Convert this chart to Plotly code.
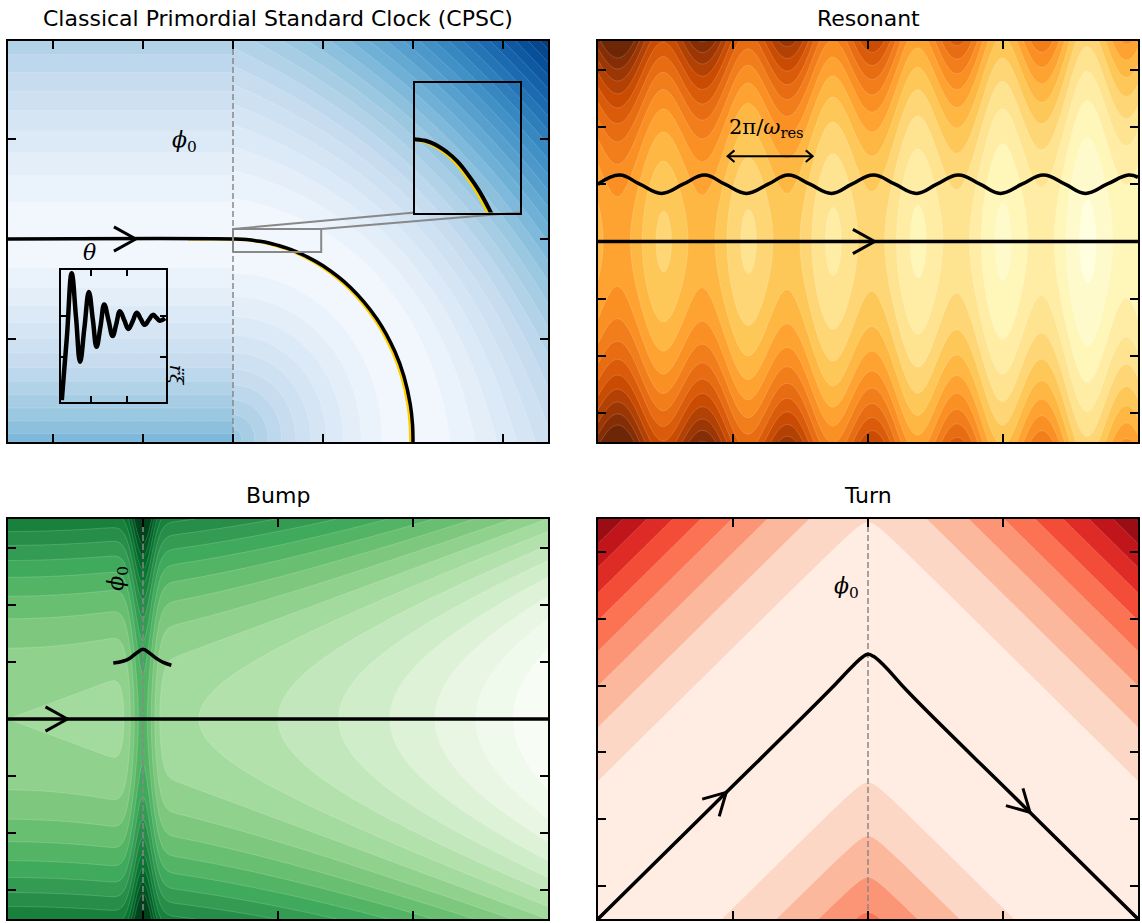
import numpy as np
import plotly.graph_objects as go

W, H = 1142, 923

# ---------------- data ----------------
# CPSC trajectory (black) and the classical path (yellow)
cpsc_x = [-0.5, 2.0, 2.15, 2.3, 2.4, 2.5, 2.6, 2.7, 2.8, 3.0, 3.3, 3.6, 3.8, 3.9, 3.97, 3.995, 4.0, 4.0]
cpsc_y = [0.0, 0.0, -0.006, -0.023, -0.040, -0.064, -0.092, -0.127, -0.167, -0.268, -0.480, -0.800, -1.128, -1.376, -1.655, -1.859, -2.0, -2.03]
yellow_x = [1.5, 1.975, 2.125, 2.275, 2.375, 2.475, 2.575, 2.675, 2.775, 2.975, 3.275, 3.575, 3.775, 3.875, 3.945, 3.97, 3.975, 3.975]
yellow_y = [0.0, 0.0, -0.006, -0.023, -0.040, -0.064, -0.092, -0.127, -0.167, -0.268, -0.480, -0.800, -1.128, -1.376, -1.655, -1.859, -2.0, -2.03]
cpsc_dashed_x = 2.0
cpsc_zoom_box = dict(x0=2.0, x1=2.98, y0=-0.13, y1=0.10)

# damped oscillation inset
osc_x = [0.21, 0.35, 0.48, 0.60, 0.71, 0.83, 0.95, 1.06, 1.16, 1.27, 1.37, 1.49, 1.60, 1.70,
         1.80, 1.92, 2.03, 2.15, 2.26, 2.37, 2.48, 2.59, 2.70, 2.80, 2.89, 3.03]
osc_y = [-2.03, -0.50, 1.02, -0.05, -1.11, -0.28, 0.57, -0.10, -0.75, -0.25, 0.27, -0.12, -0.49, -0.20,
         0.11, -0.11, -0.32, -0.13, 0.07, -0.08, -0.22, -0.10, 0.02, -0.05, -0.12, -0.06]

# Resonant
res_wave_x = [0.00, 0.16, 0.31, 0.47, 0.63, 0.79, 0.94, 1.10, 1.26, 1.41, 1.57, 1.73, 1.88, 2.04,
              2.20, 2.36, 2.51, 2.67, 2.83, 2.98, 3.14, 3.30, 3.46, 3.61, 3.77, 3.93, 4.00]
res_wave_y = [1.00, 1.16, 1.00, 0.84, 1.00, 1.16, 1.00, 0.84, 1.00, 1.16, 1.00, 0.84, 1.00, 1.16,
              1.00, 0.84, 1.00, 1.16, 1.00, 0.84, 1.00, 1.16, 1.00, 0.84, 1.00, 1.16, 1.12]
res_path_x = [0.0, 4.0]
res_path_y = [0.0, 0.0]
res_period_arrow = dict(x0=0.96, x1=1.59, y=1.49)
RES_OMEGA = 10.0

# Bump
bump_path_x = [0.0, 4.0]
bump_path_y = [0.0, 0.0]
bump_feature_x = [0.78, 0.85, 0.90, 0.95, 1.00, 1.05, 1.10, 1.15, 1.21]
bump_feature_y = [0.98, 1.01, 1.06, 1.15, 1.22, 1.15, 1.06, 0.99, 0.94]
bump_dashed_x = 1.0

# Turn
turn_x = [0.0, 0.85, 1.70, 1.88, 1.96, 2.00, 2.04, 2.12, 2.30, 3.15, 4.0]
turn_y = [0.0, 1.70, 3.40, 3.78, 3.93, 3.97, 3.94, 3.80, 3.40, 1.70, 0.0]
turn_dashed_x = 2.0

# ---------------- layout geometry (pixels) ----------------
P_TL = dict(x=(8, 548), y=(41, 442), xr=(-0.5, 5.5), yr=(-2.03, 1.98))
P_TR = dict(x=(598, 1138), y=(41, 442), xr=(0, 4), yr=(-3.5, 3.5))
P_BL = dict(x=(8, 548), y=(519, 919), xr=(0, 4), yr=(-3.5, 3.5))
P_BR = dict(x=(598, 1138), y=(519, 919), xr=(0, 4), yr=(0, 6))
P_ZOOM = dict(x=(415, 520), y=(83, 212.5))
P_OSC = dict(x=(60.7, 166), y=(270, 401.7), xr=(0.18, 3.06), yr=(-2.07, 1.1))


def dom_x(p):
    return [p['x'][0] / W, p['x'][1] / W]


def dom_y(p):
    return [1 - p['y'][1] / H, 1 - p['y'][0] / H]


def scales(p):
    sx = (p['x'][1] - p['x'][0]) / (p['xr'][1] - p['xr'][0])
    sy = (p['y'][1] - p['y'][0]) / (p['yr'][1] - p['yr'][0])
    return sx, sy


def px_to_data(p, px, py):
    sx, sy = scales(p)
    return p['xr'][0] + (px - p['x'][0]) / sx, p['yr'][0] + (p['y'][1] - py) / sy


def chevron(p, xt, yt, dx, dy, L=25, half=29):
    sx, sy = scales(p)
    ang = np.degrees(np.arctan2(dy * sy, dx * sx))
    xs, ys = [], []
    for s in (half, -half):
        b = np.radians(ang + 180 + s)
        xs.append(xt + L * np.cos(b) / sx)
        ys.append(yt + L * np.sin(b) / sy)
    return [xs[0], xt, xs[1]], [ys[0], yt, ys[1]]


def hex2rgb(h):
    h = h.lstrip('#')
    return tuple(int(h[i:i + 2], 16) for i in (0, 2, 4))


def sample_scale(hexes, a, b, n=25):
    cols = [hex2rgb(h) for h in hexes]
    m = len(cols) - 1
    out = []
    for i in range(n):
        t = a + (b - a) * i / (n - 1)
        q = t * m
        j = min(int(q), m - 1)
        f = q - j
        c = [round(cols[j][k] * (1 - f) + cols[j + 1][k] * f) for k in range(3)]
        out.append([i / (n - 1), f'rgb({c[0]},{c[1]},{c[2]})'])
    return out


BLUES = ['#f7fbff', '#deebf7', '#c6dbef', '#9ecae1', '#6baed6', '#4292c6', '#2171b5', '#08519c', '#08306b']
GREENS = ['#f7fcf5', '#e5f5e0', '#c7e9c0', '#a1d99b', '#74c476', '#41ab5d', '#238b45', '#006d2c', '#00441b']
REDS = ['#fff5f0', '#fee0d2', '#fcbba1', '#fc9272', '#fb6a4a', '#ef3b2c', '#cb181d', '#a50f15', '#67000d']
YLORBR = ['#ffffe5', '#fff7bc', '#fee391', '#fec44f', '#fe9929', '#ec7014', '#cc4c02', '#993404', '#662506']

# ---------------- background potentials ----------------
# CPSC: valley along y=0 then a quarter circle around (2,-2), radius 2
cx = np.linspace(-0.5, 5.5, 361)
cy = np.linspace(-2.03, 1.98, 261)
CX, CY = np.meshgrid(cx, cy)
R = np.sqrt((CX - 2) ** 2 + (CY + 2) ** 2)
TH = np.clip(np.arctan2(CX - 2, CY + 2), 0, np.pi / 2)
left = CX <= 2
d = np.where(left, CY, R - 2)
V_left = 0.13 * np.abs(d) ** 1.3 * np.where(d < 0, 1.4, 1.0)
V_right = 0.12 * np.abs(d) ** 1.35 * np.where(d < 0, 1.26, 1.0 + 0.6 * np.sin(2 * TH))
V_cpsc = np.where(left, V_left, V_right)

# Resonant
rx = np.linspace(0, 4, 401)
ry = np.linspace(-3.5, 3.5, 241)
RX, RY = np.meshgrid(rx, ry)
V_res = ((0.5 - 0.12 * RX) + (0.055 - 0.0055 * RX) * RY ** 2
         + 0.08 * (1 + 0.1 * RY ** 2) * np.sin(RES_OMEGA * RX))

# Bump
bx = np.linspace(0, 4, 481)
by = np.linspace(-3.5, 3.5, 241)
BX, BY = np.meshgrid(bx, by)
V_bump = 0.65 * BY ** 2 - 0.5 * BX ** 2 + (4.0 + 0.15 * BY ** 2) * np.exp(-((BX - 1.0) ** 2) / (2 * 0.065 ** 2))

# Turn
tx = np.linspace(0, 4, 401)
ty = np.linspace(0, 6, 301)
TX, TY = np.meshgrid(tx, ty)
eps = 0.06
T_traj = 4 - 2 * np.sqrt((TX - 2) ** 2 + eps ** 2) + 2 * eps
V_turn = (TY - T_traj) ** 2

fig = go.Figure()

contour_line = dict(width=0.6, color='rgba(255,255,255,0.28)')


def add_contour(x, y, z, cs, start, end, size, xa, ya):
    fig.add_trace(go.Contour(x=x, y=y, z=z, colorscale=cs, showscale=False, autocontour=False,
                             contours=dict(start=start, end=end, size=size, coloring='fill'),
                             line=contour_line, hoverinfo='skip', xaxis=xa, yaxis=ya))


add_contour(cx, cy, V_cpsc, sample_scale(BLUES, 0.03, 0.95), 0.036, 0.97, 0.036, 'x', 'y')
add_contour(rx, ry, V_res, sample_scale(YLORBR, 0.02, 0.98), 0.0, 1.2, 0.075, 'x2', 'y2')
add_contour(bx, by, V_bump, sample_scale(GREENS, 0.0, 1.0), -7, 11, 1.0, 'x3', 'y3')
add_contour(tx, ty, V_turn, sample_scale(REDS, 0.05, 1.0), 3.8, 34.2, 3.8, 'x4', 'y4')

DASH = dict(color='#888888', width=1.5, dash='6px,3px')
BLK = dict(color='black', width=3.5)


def line(x, y, xa, ya, style, shape='linear'):
    st = dict(style)
    st['shape'] = shape
    if shape == 'spline':
        st['smoothing'] = 1.2
    fig.add_trace(go.Scatter(x=x, y=y, mode='lines', line=st, hoverinfo='skip', xaxis=xa, yaxis=ya))


# ---- CPSC ----
line([cpsc_dashed_x, cpsc_dashed_x], list(P_TL['yr']), 'x', 'y', DASH)
line(yellow_x, yellow_y, 'x', 'y', dict(color='#ffd000', width=3.5), 'spline')
line(cpsc_x, cpsc_y, 'x', 'y', BLK, 'spline')
zb = cpsc_zoom_box
line([zb['x0'], zb['x1'], zb['x1'], zb['x0'], zb['x0']], [zb['y0'], zb['y0'], zb['y1'], zb['y1'], zb['y0']],
     'x', 'y', dict(color='#888888', width=2))
bl = px_to_data(P_TL, P_ZOOM['x'][0], P_ZOOM['y'][1])
br = px_to_data(P_TL, P_ZOOM['x'][1], P_ZOOM['y'][1])
line([zb['x0'], bl[0]], [zb['y1'], bl[1]], 'x', 'y', dict(color='#888888', width=2))
line([zb['x1'], br[0]], [zb['y1'], br[1]], 'x', 'y', dict(color='#888888', width=2))
chx, chy = chevron(P_TL, 0.92, 0.0, 1, 0)
line(chx, chy, 'x', 'y', dict(color='black', width=3))

# zoom inset (transparent)
line(yellow_x, yellow_y, 'x5', 'y5', dict(color='#ffd000', width=4), 'spline')
line(cpsc_x, cpsc_y, 'x5', 'y5', dict(color='black', width=4), 'spline')

# oscillation inset
line(osc_x, osc_y, 'x6', 'y6', dict(color='black', width=4.5), 'spline')

# ---- Resonant ----
line(res_wave_x, res_wave_y, 'x2', 'y2', BLK, 'spline')
line(res_path_x, res_path_y, 'x2', 'y2', BLK)
chx, chy = chevron(P_TR, 2.05, 0.0, 1, 0)
line(chx, chy, 'x2', 'y2', dict(color='black', width=3))
pa = res_period_arrow
line([pa['x0'], pa['x1']], [pa['y'], pa['y']], 'x2', 'y2', dict(color='black', width=2))
chx, chy = chevron(P_TR, pa['x1'], pa['y'], 1, 0, L=9, half=40)
line(chx, chy, 'x2', 'y2', dict(color='black', width=2))
chx, chy = chevron(P_TR, pa['x0'], pa['y'], -1, 0, L=9, half=40)
line(chx, chy, 'x2', 'y2', dict(color='black', width=2))

# ---- Bump ----
line([bump_dashed_x, bump_dashed_x], list(P_BL['yr']), 'x3', 'y3', DASH)
line(bump_path_x, bump_path_y, 'x3', 'y3', BLK)
line(bump_feature_x, bump_feature_y, 'x3', 'y3', BLK, 'spline')
chx, chy = chevron(P_BL, 0.44, 0.0, 1, 0)
line(chx, chy, 'x3', 'y3', dict(color='black', width=3))

# ---- Turn ----
line([turn_dashed_x, turn_dashed_x], list(P_BR['yr']), 'x4', 'y4', DASH)
line(turn_x, turn_y, 'x4', 'y4', BLK, 'spline')
chx, chy = chevron(P_BR, 0.95, 1.9, 1, 2)
line(chx, chy, 'x4', 'y4', dict(color='black', width=3))
chx, chy = chevron(P_BR, 3.2, 1.6, 1, -2)
line(chx, chy, 'x4', 'y4', dict(color='black', width=3))

# ---------------- axes ----------------
base = dict(showline=True, linewidth=2, linecolor='black', mirror='allticks', ticks='inside',
            ticklen=8, tickwidth=1.5, tickcolor='black', showticklabels=False, showgrid=False,
            zeroline=False, fixedrange=True)

layout = dict(width=W, height=H, margin=dict(l=0, r=0, t=0, b=0), paper_bgcolor='white',
              plot_bgcolor='rgba(0,0,0,0)', showlegend=False)


def axes(n, p, xt, yt, **kw):
    sx = '' if n == 1 else str(n)
    ax = dict(base, domain=dom_x(p), range=list(p['xr']), tickvals=xt, anchor='y' + sx)
    ay = dict(base, domain=dom_y(p), range=list(p['yr']), tickvals=yt, anchor='x' + sx)
    ax.update(kw)
    ay.update(kw)
    layout['xaxis' + sx] = ax
    layout['yaxis' + sx] = ay


axes(1, P_TL, [0, 1, 2, 3, 4, 5], [-1, 0, 1])
axes(2, P_TR, [1, 2, 3], [-3, -2, -1, 0, 1, 2, 3])
axes(3, P_BL, [1, 2, 3], [-3, -2, -1, 0, 1, 2, 3])
axes(4, P_BR, [1, 2, 3], [0.5, 1.5, 2.5, 3.5, 4.5, 5.5])
P_ZOOM_AX = dict(P_ZOOM, xr=(zb['x0'], zb['x1']), yr=(zb['y0'], zb['y1']))
axes(5, P_ZOOM_AX, [], [], ticks='')
axes(6, P_OSC, [1, 2], [-1, 0], ticklen=6)

fig.update_layout(**layout)

SERIF = 'DejaVu Serif, Liberation Serif, serif'
SANS = 'DejaVu Sans, sans-serif'


def title(text, p):
    fig.add_annotation(text=text, xref='paper', yref='paper', x=(p['x'][0] + p['x'][1]) / 2 / W,
                       y=1 - (p['y'][0] - 23) / H, xanchor='center', yanchor='middle', showarrow=False,
                       font=dict(family=SANS, size=22, color='black'))


title('Classical Primordial Standard Clock (CPSC)', P_TL)
title('Resonant', P_TR)
title('Bump', P_BL)
title('Turn', P_BR)


def label(text, x, y, xa, ya, size=22, angle=0):
    fig.add_annotation(text=text, x=x, y=y, xref=xa, yref=ya, showarrow=False, textangle=angle,
                       xanchor='center', yanchor='middle', font=dict(family=SERIF, size=size, color='black'))


label('<i>ϕ</i><sub>0</sub>', 1.46, 0.97, 'x', 'y')
label('<i>θ</i>', 0.40, -0.14, 'x', 'y')
label('<i>r̈ξ</i>', 1.38, -1.36, 'x', 'y', size=19, angle=90)
label('2π/<i>ω</i><sub>res</sub>', 1.25, 1.98, 'x2', 'y2', size=21)
label('<i>ϕ</i><sub>0</sub>', 0.81, 2.46, 'x3', 'y3', angle=-90)
label('<i>ϕ</i><sub>0</sub>', 1.84, 4.98, 'x4', 'y4')

fig.write_html('out.html')
